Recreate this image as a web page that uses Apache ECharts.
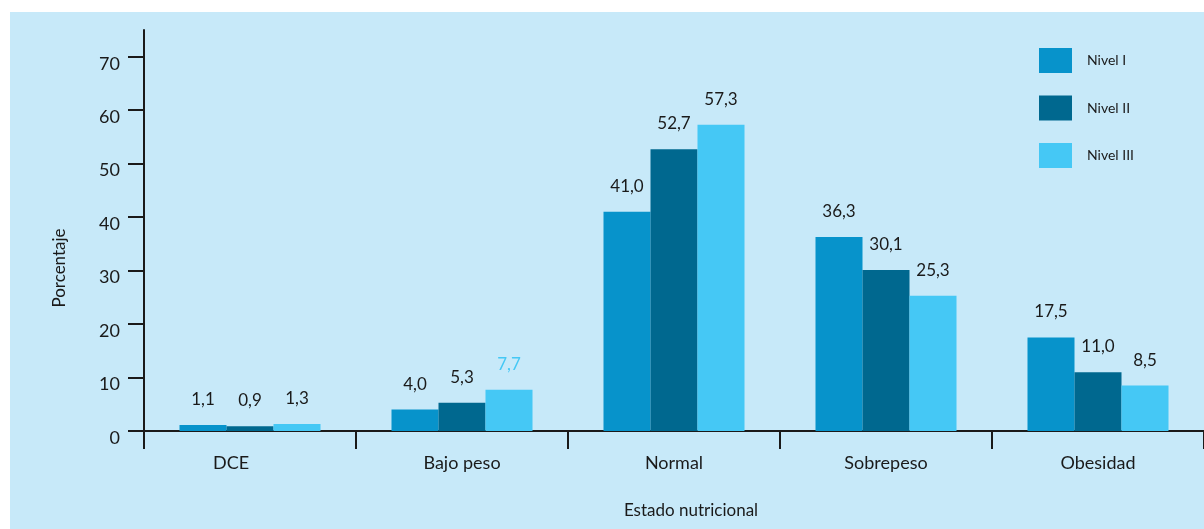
<!DOCTYPE html>
<html>
<head>
<meta charset="utf-8">
<script src="https://cdn.jsdelivr.net/npm/echarts@6/dist/echarts.min.js"></script>
<style>
  html, body { margin: 0; padding: 0; background: #ffffff; }
  #chart { width: 1204px; height: 529px; }
</style>
</head>
<body>
<div id="chart"></div>
<script>
// Estado nutricional por nivel (porcentaje)
const categories = ['DCE', 'Bajo peso', 'Normal', 'Sobrepeso', 'Obesidad'];
const nivel1 = [1.1, 4.0, 41.0, 36.3, 17.5];
const nivel2 = [0.9, 5.3, 52.7, 30.1, 11.0];
const nivel3 = [1.3, 7.7, 57.3, 25.3, 8.5];
const seriesNames = ['Nivel I', 'Nivel II', 'Nivel III'];
const yTicks = [0, 10, 20, 30, 40, 50, 60, 70];

const colors = ['#0793cb', '#00688f', '#45c8f5'];
const FONT = 'Lato, "Open Sans", sans-serif';
const INK = '#1a1a1a';

const fmt = v => v.toFixed(1).replace('.', ',');

function barSeries(name, values, color) {
  return {
    name: name,
    type: 'bar',
    barWidth: 47,
    barGap: '0%',
    itemStyle: { color: color },
    label: {
      show: true,
      position: 'top',
      distance: 17,
      fontFamily: FONT,
      fontSize: 17,
      color: INK,
      formatter: p => fmt(p.value)
    },
    data: values.map((v, i) => {
      // the Bajo peso value of Nivel III carries a tinted label
      if (name === 'Nivel III' && categories[i] === 'Bajo peso') {
        return { value: v, label: { color: '#45c8f5' } };
      }
      return v;
    })
  };
}

const chart = echarts.init(document.getElementById('chart'), null, { renderer: 'canvas' });

chart.setOption({
  backgroundColor: '#ffffff',
  animation: false,
  textStyle: { fontFamily: FONT },
  graphic: [
    {
      type: 'rect',
      z: -10,
      silent: true,
      shape: { x: 10, y: 12, width: 1194, height: 517 },
      style: { fill: '#c7e9f9' }
    },
    {
      type: 'text',
      x: 60, y: 268,
      rotation: Math.PI / 2,
      style: {
        text: 'Porcentaje',
        font: '17px ' + FONT,
        fill: INK,
        align: 'center',
        verticalAlign: 'middle'
      }
    },
    {
      type: 'text',
      x: 691, y: 511,
      style: {
        text: 'Estado nutricional',
        font: '17px ' + FONT,
        fill: INK,
        align: 'center',
        verticalAlign: 'middle'
      }
    }
  ],
  legend: {
    orient: 'vertical',
    left: 1039,
    top: 48,
    padding: 0,
    itemWidth: 33,
    itemHeight: 25,
    itemGap: 22.5,
    icon: 'rect',
    data: seriesNames,
    textStyle: {
      fontFamily: FONT,
      fontSize: 14,
      color: INK,
      padding: [0, 0, 0, 10]
    }
  },
  grid: {
    left: 144,
    top: 30,
    width: 1060,
    bottom: 98,
    containLabel: false
  },
  xAxis: {
    type: 'category',
    // the first category label sits a little left of its slot centre
    data: categories.map((c, i) => i === 0
      ? { value: c, textStyle: { padding: [0, 38, 0, 0] } }
      : c),
    boundaryGap: true,
    axisLine: { lineStyle: { color: INK, width: 2 } },
    axisTick: { show: true, length: 18, lineStyle: { color: INK, width: 2 } },
    axisLabel: {
      margin: 23,
      fontFamily: FONT,
      fontSize: 18,
      color: INK
    }
  },
  yAxis: {
    type: 'value',
    min: 0,
    max: 75,
    interval: 5,
    splitLine: { show: false },
    axisLine: { show: true, lineStyle: { color: INK, width: 2 } },
    axisTick: {
      show: true,
      length: 16,
      customValues: yTicks,
      lineStyle: { color: INK, width: 2 }
    },
    axisLabel: {
      customValues: yTicks,
      margin: 24,
      fontFamily: FONT,
      fontSize: 18,
      color: INK,
      verticalAlign: 'top',
      lineHeight: 14
    }
  },
  series: [
    barSeries(seriesNames[0], nivel1, colors[0]),
    barSeries(seriesNames[1], nivel2, colors[1]),
    barSeries(seriesNames[2], nivel3, colors[2])
  ]
});
</script>
</body>
</html>
